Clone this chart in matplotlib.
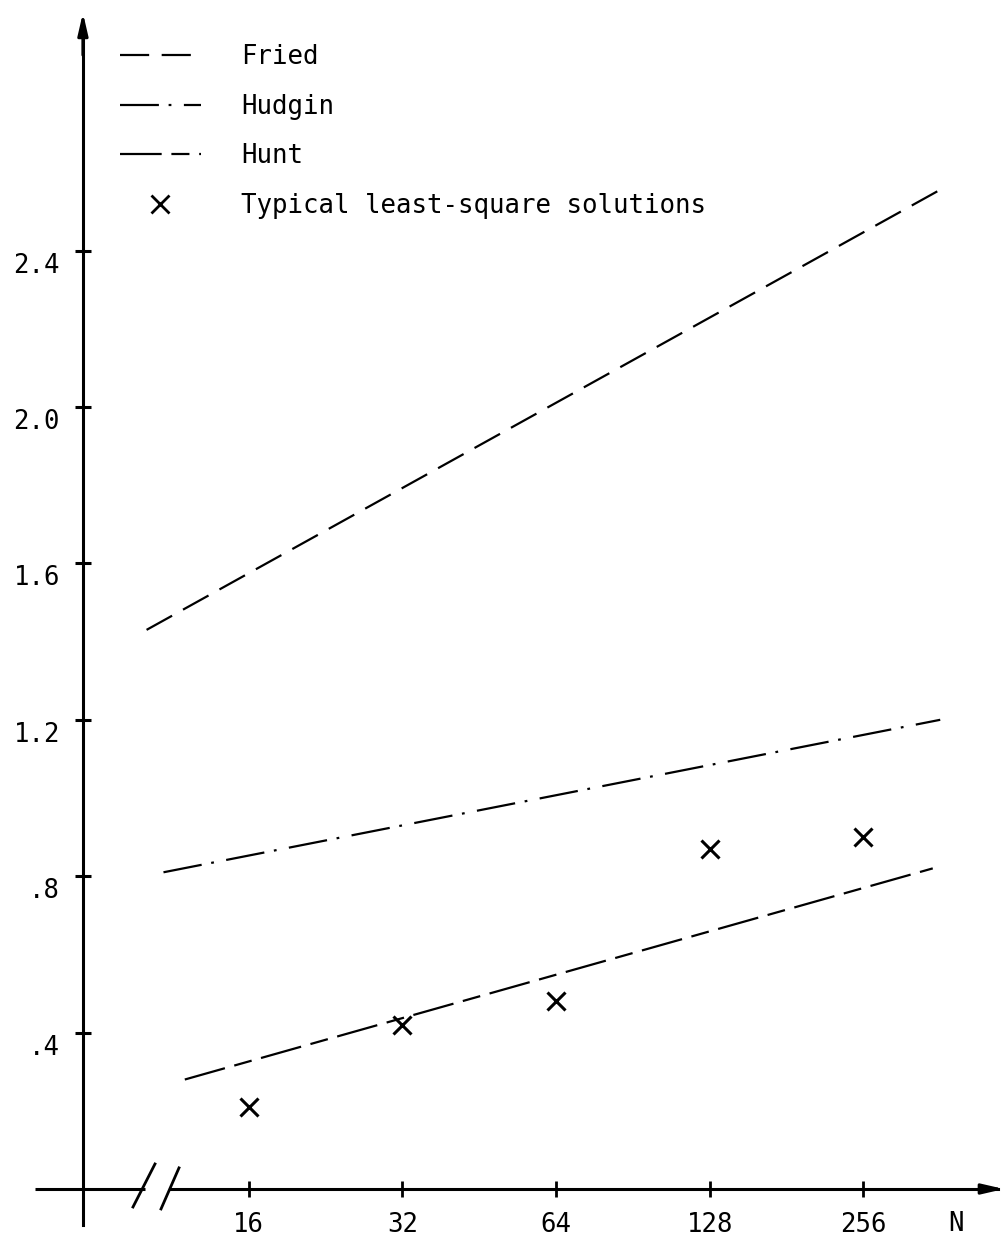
import matplotlib
matplotlib.use('Agg')
import matplotlib.pyplot as plt
from matplotlib.lines import Line2D
from matplotlib.ticker import NullLocator
from matplotlib.transforms import offset_copy, blended_transform_factory

# ---------------- data ----------------
fried_n = [10.1, 367]
fried_v = [1.43, 2.56]
hudgin_n = [10.9, 362]
hudgin_v = [0.81, 1.20]
hunt_n = [12.0, 350]
hunt_v = [0.28, 0.82]
ls_n = [16, 32, 64, 128, 256]
ls_v = [0.21, 0.42, 0.48, 0.87, 0.90]
x_ticks = [16, 32, 64, 128, 256]
x_tick_labels = ['16', '32', '64', '128', '256']
y_ticks = [0.4, 0.8, 1.2, 1.6, 2.0, 2.4]
y_tick_labels = ['.4', '.8', '1.2', '1.6', '2.0', '2.4']
legend_labels = ['Fried', 'Hudgin', 'Hunt', 'Typical least-square solutions']

# ---------------- style / layout ----------------
plt.rcParams['font.family'] = ['DejaVu Sans Mono']
plt.rcParams['lines.scale_dashes'] = False
FS = 18.5
LW_AXIS = 2.2
LW_LINE = 1.6
FRIED_DASH = (21, 9)
HUDGIN_DASH = (28, 7, 2, 9)
HUNT_DASH = (30, 7, 13, 7)

fig = plt.figure(figsize=(10.08, 12.43), dpi=100)
ax = fig.add_axes([0, 0, 1, 1])
ax.set_xscale('log', base=2)
ax.set_xlim(5.215, 491.4)
ax.set_ylim(-0.1381, 3.0409)
ax.patch.set_alpha(0)

Y_AXIS_X = 7.58
for s in ['top', 'right']:
    ax.spines[s].set_visible(False)
ax.spines['left'].set_position(('data', Y_AXIS_X))
ax.spines['left'].set_bounds(-0.092, 2.95)
ax.spines['bottom'].set_position(('data', 0))
ax.spines['bottom'].set_bounds(11.23, 470)
ax.spines['left'].set_linewidth(LW_AXIS)
ax.spines['bottom'].set_linewidth(LW_AXIS)

ax.set_xticks(x_ticks, x_tick_labels)
ax.xaxis.set_minor_locator(NullLocator())
ax.tick_params(axis='x', which='major', direction='inout', length=11, width=2,
               pad=11, labelsize=FS)
ax.set_yticks(y_ticks)
ax.yaxis.set_minor_locator(NullLocator())
ax.tick_params(axis='y', which='major', direction='inout', length=12, width=2.2,
               labelleft=False)

# y tick labels (sit slightly below their ticks, as in the original)
ylab_tr = offset_copy(blended_transform_factory(fig.transFigure, ax.transData),
                      fig=fig, x=0, y=-15, units='dots')
for v, lab in zip(y_ticks, y_tick_labels):
    ax.text(60 / 1008, v, lab, transform=ylab_tr, ha='right', va='center',
            fontsize=FS)

# axis label N
fig.text(956 / 1008, 1 - 1224 / 1243, 'N', ha='center', va='center', fontsize=FS)

# left stub of x axis and break marks
ax.plot([6.105, 10.03], [0, 0], color='k', lw=LW_AXIS, clip_on=False,
        solid_capstyle='butt')
ax.plot([9.50, 10.49], [-0.046, 0.064], color='k', lw=2.0, clip_on=False)
ax.plot([10.78, 11.69], [-0.051, 0.054], color='k', lw=2.0, clip_on=False)

# arrows
ax.annotate('', xy=(Y_AXIS_X, 3.008), xytext=(Y_AXIS_X, 2.90),
            arrowprops=dict(arrowstyle='-|>,head_length=1.3,head_width=0.3',
                            color='k', lw=LW_AXIS, shrinkA=0, shrinkB=0))
ax.annotate('', xy=(482.7, 0), xytext=(450, 0),
            arrowprops=dict(arrowstyle='-|>,head_length=1.3,head_width=0.3',
                            color='k', lw=LW_AXIS, shrinkA=0, shrinkB=0))

# data
ax.plot(fried_n, fried_v, color='k', lw=LW_LINE, dashes=FRIED_DASH)
ax.plot(hudgin_n, hudgin_v, color='k', lw=LW_LINE, dashes=HUDGIN_DASH)
ax.plot(hunt_n, hunt_v, color='k', lw=LW_LINE, dashes=HUNT_DASH)
ax.plot(ls_n, ls_v, ls='none', marker='x', ms=13, mew=2.2, color='k')

handles = [
    Line2D([], [], color='k', lw=LW_LINE, dashes=FRIED_DASH),
    Line2D([], [], color='k', lw=LW_LINE, dashes=HUDGIN_DASH),
    Line2D([], [], color='k', lw=LW_LINE, dashes=HUNT_DASH),
    Line2D([], [], ls='none', marker='x', ms=13, mew=2.0, color='k'),
]
ax.legend(handles, legend_labels, loc='upper left',
          bbox_to_anchor=(120 / 1008, 1 - 44 / 1243), bbox_transform=fig.transFigure,
          frameon=False, fontsize=FS, handlelength=3.15, handletextpad=1.55,
          labelspacing=0.92, borderpad=0, borderaxespad=0)

fig.savefig('out.png', dpi=100)
